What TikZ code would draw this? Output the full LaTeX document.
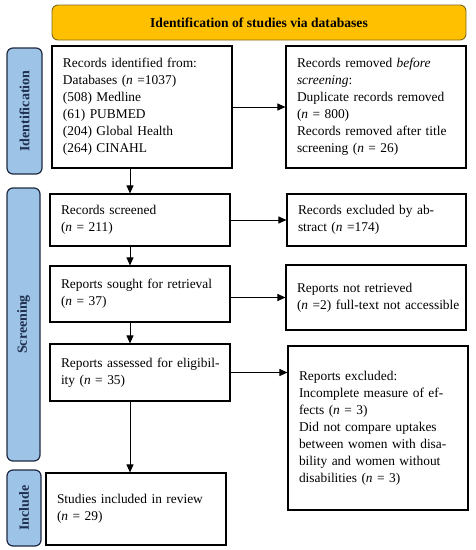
\documentclass[tikz,border=0pt]{standalone}
\usepackage{fontspec}
\setmainfont{Liberation Serif}
\usetikzlibrary{arrows.meta}
\definecolor{gold}{HTML}{FFC000}
\definecolor{goldline}{HTML}{7F6A1A}
\definecolor{sideblue}{HTML}{9DC3E6}
\definecolor{sideline}{HTML}{1F2A40}
\definecolor{sidetext}{HTML}{1F3050}
\tikzset{
  box/.style={draw=black, line width=1.1pt, fill=white, inner xsep=11pt, inner ysep=3pt,
    align=left, font=\fontsize{13.4}{17}\selectfont},
  side/.style={draw=sideline, fill=sideblue, line width=1.2pt, rounded corners=6pt,
    rotate=90, inner sep=0pt, font=\fontsize{14}{16}\selectfont\bfseries, text=sidetext},
  banner/.style={draw=goldline, fill=gold, line width=0.9pt, rounded corners=6pt,
    font=\fontsize{13.6}{16}\selectfont\bfseries, inner sep=0pt},
  arr/.style={line width=0.9pt, -{Triangle[length=8pt,width=7pt]}}
}
\begin{document}
\begin{tikzpicture}[x=1pt,y=-1pt]
\useasboundingbox (0,0) rectangle (475,550);
% banner
\node[banner, minimum width=414pt, minimum height=35pt] (ban) at (259,22.5) {Identification of studies via databases};
% side labels
\node[side, minimum width=126pt, minimum height=35pt] (sid) at (24.5,111) {Identification};
\node[side, minimum width=273pt, minimum height=33pt] (ssc) at (23.5,324.5) {Screening};
\node[side, minimum width=76pt, minimum height=34pt] (sin) at (24,508) {Include};
% left column
\node[box, text width=158pt, minimum height=122pt] (ident) at (142,107) {\mbox{Records identified from:}\\\mbox{Databases (\textit{n} =1037)}\\(508) Medline\\(61) PUBMED\\\mbox{(204) Global Health}\\(264) CINAHL};
\node[box, text width=158pt, minimum height=52pt] (scr) at (140,220) {Records screened\\(\textit{n} = 211)};
\node[box, text width=158pt, minimum height=56pt] (sought) at (140,294) {\mbox{Reports sought for retrieval}\\(\textit{n} = 37)};
\node[box, text width=158pt, minimum height=57pt] (assess) at (140,372.5) {\mbox{Reports assessed for eligibil-}\\ity (\textit{n} = 35)};
\node[box, text width=158pt, minimum height=72pt] (incl) at (136,509) {\mbox{Studies included in review}\\(\textit{n} = 29)};
% right column
\node[box, text width=158pt, minimum height=122pt] (removed) at (376,107) {\mbox{Records removed \textit{before}}\\\textit{screening}:\\\mbox{Duplicate records removed}\\(\textit{n} = 800)\\\mbox{Records removed after title}\\\mbox{screening (\textit{n} = 26)}};
\node[box, text width=157pt, minimum height=52pt] (exabs) at (376.5,220) {\mbox{Records excluded by ab-}\\stract (\textit{n} =174)};
\node[box, text width=158pt, minimum height=65pt] (notret) at (376,297.5) {Reports not retrieved\\\mbox{(\textit{n} =2) full-text not accessible}};
\node[box, text width=158pt, minimum height=164pt] (excl) at (378,428) {Reports excluded:\\\mbox{Incomplete measure of ef-}\\fects (\textit{n} = 3)\\\mbox{Did not compare uptakes}\\\mbox{between women with disa-}\\\mbox{bility and women without}\\\mbox{disabilities (\textit{n} = 3)}};
% vertical axis coordinate
\coordinate (vx) at (130,0);
% arrows
\draw[arr] (ident.south -| vx) -- (scr.north -| vx);
\draw[arr] (scr.south -| vx) -- (sought.north -| vx);
\draw[arr] (sought.south -| vx) -- (assess.north -| vx);
\draw[arr] (assess.south -| vx) -- (incl.north -| vx);
\draw[arr] (ident.east) -- (ident.east -| removed.west);
\draw[arr] (scr.east) -- (scr.east -| exabs.west);
\draw[arr] (notret.west -| sought.east) -- (notret.west);
\draw[arr] (assess.east) -- (assess.east -| excl.west);
\end{tikzpicture}
\end{document}
